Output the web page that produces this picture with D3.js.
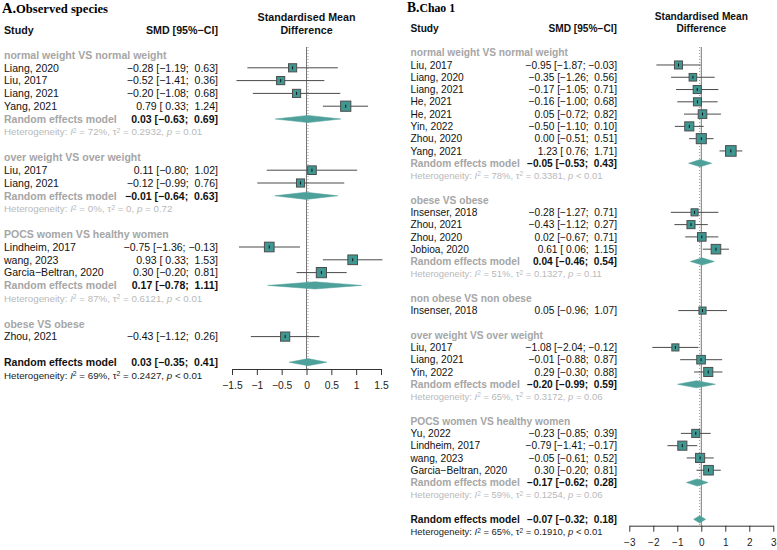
<!DOCTYPE html>
<html><head><meta charset="utf-8">
<script src="https://cdn.jsdelivr.net/npm/d3@7"></script>
<style>body{margin:0;background:#fff}svg{display:block}</style>
</head><body>
<svg id="c" width="777" height="550"></svg>
<script>
// ---------- Panel A : Observed species ----------
const groupsA = ["normal weight VS normal weight","over weight VS over weight","POCS women VS healthy women","obese VS obese"];
const studiesA = ["Liang, 2020","Liu, 2017","Liang, 2021","Yang, 2021","Liu, 2017","Liang, 2021","Lindheim, 2017","wang, 2023","Garcia\u2212Beltran, 2020","Zhou, 2021"];
const studyGroupA = [0,0,0,0,1,1,2,2,2,3];
const smdA   = [-0.28,-0.52,-0.20,0.79, 0.11,-0.12, -0.75,0.93,0.30, -0.43];
const lowerA = [-1.19,-1.41,-1.08,0.33,-0.80,-0.99, -1.36,0.33,-0.20,-1.12];
const upperA = [ 0.63, 0.36, 0.68,1.24, 1.02, 0.76, -0.13,1.53,0.81, 0.26];
const weightA = [8.1,8.1,8.1,12.7,9.1,8.1,11.4,11.4,12.7,10.3];
const groupSmdA   = [0.03,-0.01,0.17,null];
const groupLowerA = [-0.63,-0.64,-0.78,null];
const groupUpperA = [0.69,0.63,1.11,null];
const groupI2A  = ["72%","0%","87%",null];
const groupTauA = ["0.2932","0","0.6121",null];
const groupPA   = ["= 0.01","= 0.72","< 0.01",null];
const overallA = [0.03,-0.35,0.41];
const overallHetA = ["69%","0.2427","< 0.01"];
const ticksA = [-1.5,-1,-0.5,0,0.5,1,1.5];

// ---------- Panel B : Chao 1 ----------
const groupsB = ["normal weight VS normal weight","obese VS obese","non obese VS non obese","over weight VS over weight","POCS women VS healthy women"];
const studiesB = ["Liu, 2017","Liang, 2020","Liang, 2021","He, 2021","He, 2021","Yin, 2022","Zhou, 2020","Yang, 2021",
  "Insenser, 2018","Zhou, 2021","Zhou, 2020","Jobioa, 2020",
  "Insenser, 2018",
  "Liu, 2017","Liang, 2021","Yin, 2022",
  "Yu, 2022","Lindheim, 2017","wang, 2023","Garcia\u2212Beltran, 2020"];
const studyGroupB = [0,0,0,0,0,0,0,0,1,1,1,1,2,3,3,3,4,4,4,4];
const smdB   = [-0.95,-0.35,-0.17,-0.16,0.05,-0.50,0.00,1.23, -0.28,-0.43,0.02,0.61, 0.05, -1.08,-0.01,0.29, -0.23,-0.79,-0.05,0.30];
const lowerB = [-1.87,-1.26,-1.05,-1.00,-0.72,-1.10,-0.51,0.76, -1.27,-1.12,-0.67,0.06, -0.96, -2.04,-0.88,-0.30, -0.85,-1.41,-0.61,-0.20];
const upperB = [-0.03,0.56,0.71,0.68,0.82,0.10,0.51,1.71, 0.71,0.27,0.71,1.15, 1.07, -0.12,0.87,0.88, 0.39,-0.17,0.52,0.81];
const weightB = [4.4,3.9,4.4,4.4,5.0,5.6,6.9,7.6, 3.4,4.4,5.0,6.2, 3.4, 3.4,5.0,5.6, 4.4,5.6,5.6,6.2];
const groupSmdB   = [-0.05,0.04,null,-0.20,-0.17];
const groupLowerB = [-0.53,-0.46,null,-0.99,-0.62];
const groupUpperB = [0.43,0.54,null,0.59,0.28];
const groupI2B  = ["78%","51%",null,"65%","59%"];
const groupTauB = ["0.3381","0.1327",null,"0.3172","0.1254"];
const groupPB   = ["< 0.01","= 0.11",null,"= 0.06","= 0.06"];
const overallB = [-0.07,-0.32,0.18];
const overallHetB = ["65%","0.1910","< 0.01"];
const ticksB = [-3,-2,-1,0,1,2,3];

const svg = d3.select("#c");
const SANS = "Arial, 'Liberation Sans', Helvetica, sans-serif";
const SERIF = "'Times New Roman', 'Liberation Serif', serif";
const TEAL = "#3f9791", DIAM = "#4ea19b", GREY = "#a6a6a6", HET = "#b9b9b9";

function fmt(v){ return (v<0?"\u2212":"") + Math.abs(v).toFixed(2); }
function pad(v){ return (v<0?"":" ") + fmt(v); }
function ciText(e,l,u){ return fmt(e)+" ["+pad(l)+"; "+pad(u)+"]"; }

function fitSize(str, target, weight, family){
  const t = svg.append("text").style("font-family", family||SANS).style("font-size","10px")
    .style("font-weight", weight||"normal").attr("xml:space","preserve").text(str);
  const w = t.node().getComputedTextLength();
  t.remove();
  return 10*target/w;
}

function hetText(parent, xx, i2, tau, p, col){
  const tx = parent.append("text").attr("x", xx).style("font-size","10px").attr("fill", col).attr("xml:space","preserve");
  tx.append("tspan").text("Heterogeneity: ");
  tx.append("tspan").style("font-style","italic").text("I");
  tx.append("tspan").attr("dy","-0.38em").style("font-size","70%").text("2");
  tx.append("tspan").attr("dy","0.266em").text(" = "+i2+", \u03c4");
  tx.append("tspan").attr("dy","-0.38em").style("font-size","70%").text("2");
  tx.append("tspan").attr("dy","0.266em").text(" = "+tau+", ");
  tx.append("tspan").style("font-style","italic").text("p");
  tx.append("tspan").text(" "+p);
  return tx;
}

function drawPanel(cfg, d){
  const g = svg.append("g").style("font-family", SANS);
  const x = d3.scaleLinear().domain(d3.extent(d.ticks)).range([cfg.plotL, cfg.plotR]);
  const size = d3.scaleSqrt().domain([0, d3.max(d.weight)]).range([0, cfg.maxSq]);
  const fs = fitSize("Liang, 2020", cfg.studyW);
  const bfs = fitSize("Standardised Mean", cfg.headW, "bold");
  const base = (y, f) => y + (f||fs)*0.36;

  // heterogeneity font size from the first subgroup line
  const probe = hetText(g, 0, d.gI2[0], d.gTau[0], d.gP[0], "none");
  const hfs = 10*cfg.hetW/probe.node().getBBox().width;
  probe.remove();

  // title
  const sfs = fitSize(d.title, cfg.titleW, "bold", SERIF);
  const t = g.append("text").attr("x", cfg.titleX).attr("y", cfg.titleY)
    .style("font-family", SERIF).style("font-weight","bold");
  t.append("tspan").style("font-size",(sfs*1.15)+"px").text(d.letter);
  t.append("tspan").style("font-size",sfs+"px").text(d.title);

  // headers
  const hdr = (xx, yy, anchor, txt) => g.append("text").attr("x", xx).attr("y", base(yy,bfs)).attr("text-anchor",anchor)
      .style("font-size",bfs+"px").style("font-weight","bold").attr("fill","#111").text(txt);
  hdr(cfg.textX, cfg.headY, "start", "Study");
  hdr(cfg.smdR, cfg.headY, "end", "SMD [95%\u2212CI]");
  const cx = (cfg.plotL+cfg.plotR)/2;
  hdr(cx, cfg.headY-cfg.headGap, "middle", "Standardised Mean");
  hdr(cx, cfg.headY, "middle", "Difference");

  // rows
  const rows = [];
  d.groups.forEach((gn, gi) => {
    rows.push({type:"group", label: gn});
    d.studyGroup.forEach((sg, i) => { if (sg===gi) rows.push({type:"study", i}); });
    if (d.gSmd[gi] !== null){
      rows.push({type:"re", gi});
      rows.push({type:"het", gi});
    }
    rows.push({type:"blank"});
  });
  rows.push({type:"overall"});
  rows.push({type:"ohet"});
  const yOf = k => cfg.row0 + k*cfg.rowH;

  // reference lines
  g.append("line").attr("x1", x(0)).attr("x2", x(0)).attr("y1", cfg.lineTop).attr("y2", cfg.axisY)
    .attr("stroke","#777").attr("stroke-width",1);
  g.append("line").attr("x1", x(d.overall[0])).attr("x2", x(d.overall[0])).attr("y1", cfg.lineTop).attr("y2", cfg.axisY)
    .attr("stroke","#999").attr("stroke-width",1).attr("stroke-dasharray","1,2");

  function diamond(y, e, l, u){
    const h = 3.6;
    g.append("path").attr("d", `M${x(l)},${y} L${x(e)},${y-h} L${x(u)},${y} L${x(e)},${y+h} Z`)
      .attr("fill", DIAM).attr("stroke", DIAM).attr("stroke-width",0.5);
  }
  function het(y, i2, tau, p, col){
    hetText(g, cfg.textX, i2, tau, p, col).style("font-size", hfs+"px").attr("y", base(y, hfs));
  }

  rows.forEach((r, k) => {
    const y = yOf(k);
    if (r.type==="group"){
      g.append("text").attr("x", cfg.textX).attr("y", base(y)).style("font-size",fs+"px").style("font-weight","bold").attr("fill",GREY).text(r.label);
    } else if (r.type==="study"){
      const i = r.i;
      g.append("text").attr("x", cfg.textX).attr("y", base(y)).style("font-size",fs+"px").attr("fill","#111").text(d.studies[i]);
      g.append("text").attr("x", cfg.smdR).attr("y", base(y)).attr("text-anchor","end").attr("xml:space","preserve").style("font-size",fs+"px").attr("fill","#111").text(ciText(d.smd[i], d.lower[i], d.upper[i]));
      g.append("line").attr("x1", x(d.lower[i])).attr("x2", x(d.upper[i])).attr("y1", y).attr("y2", y).attr("stroke","#4a4a4a").attr("stroke-width",1);
      const s = size(d.weight[i]);
      g.append("rect").attr("x", x(d.smd[i])-s/2).attr("y", y-s/2).attr("width", s).attr("height", s)
        .attr("fill", TEAL).attr("stroke","#4d4d4d").attr("stroke-width",1);
      g.append("line").attr("x1", x(d.smd[i])).attr("x2", x(d.smd[i])).attr("y1", y-1.5).attr("y2", y+1.5).attr("stroke","#111").attr("stroke-width",1);
    } else if (r.type==="re"){
      const gi = r.gi;
      g.append("text").attr("x", cfg.textX).attr("y", base(y)).style("font-size",fs+"px").style("font-weight","bold").attr("fill",GREY).text("Random effects model");
      g.append("text").attr("x", cfg.smdR).attr("y", base(y)).attr("text-anchor","end").attr("xml:space","preserve").style("font-size",fs+"px").style("font-weight","bold").attr("fill","#111").text(ciText(d.gSmd[gi], d.gLower[gi], d.gUpper[gi]));
      diamond(y, d.gSmd[gi], d.gLower[gi], d.gUpper[gi]);
    } else if (r.type==="het"){
      const gi = r.gi;
      het(y, d.gI2[gi], d.gTau[gi], d.gP[gi], HET);
    } else if (r.type==="overall"){
      g.append("text").attr("x", cfg.textX).attr("y", base(y)).style("font-size",fs+"px").style("font-weight","bold").attr("fill","#111").text("Random effects model");
      g.append("text").attr("x", cfg.smdR).attr("y", base(y)).attr("text-anchor","end").attr("xml:space","preserve").style("font-size",fs+"px").style("font-weight","bold").attr("fill","#111").text(ciText(d.overall[0], d.overall[1], d.overall[2]));
      diamond(y, d.overall[0], d.overall[1], d.overall[2]);
    } else if (r.type==="ohet"){
      het(y, d.overallHet[0], d.overallHet[1], d.overallHet[2], "#222");
    }
  });

  // axis
  const ax = g.append("g").attr("transform", `translate(0,${cfg.axisY})`)
    .call(d3.axisBottom(x).tickValues(d.ticks).tickFormat(d3.format("~g")).tickSize(6).tickSizeOuter(0).tickPadding(7));
  ax.select(".domain").attr("stroke","#333");
  ax.selectAll(".tick line").attr("stroke","#333");
  ax.selectAll(".tick text").style("font-size",(fs*0.98)+"px").attr("fill","#222").style("font-family",SANS);
}

drawPanel({titleX:2, titleY:13, titleW:92, textX:4, smdR:218, plotL:232, plotR:381, row0:55, rowH:12.8, headY:30, headGap:13, axisY:369, lineTop:47,
           studyW:55, headW:98, hetW:199, maxSq:10.2},
  {letter:"A.", title:"Observed species", groups:groupsA, studies:studiesA, studyGroup:studyGroupA, smd:smdA, lower:lowerA, upper:upperA, weight:weightA,
   gSmd:groupSmdA, gLower:groupLowerA, gUpper:groupUpperA, gI2:groupI2A, gTau:groupTauA, gP:groupPA, overall:overallA, overallHet:overallHetA, ticks:ticksA});

drawPanel({titleX:407, titleY:12, titleW:35.7, textX:410.5, smdR:617, plotL:629.3, plotR:773.3, row0:52.7, rowH:12.28, headY:28.5, headGap:12.6, axisY:525.7, lineTop:47,
           studyW:53.3, headW:93.3, hetW:192.7, maxSq:10.6},
  {letter:"B.", title:"Chao 1", groups:groupsB, studies:studiesB, studyGroup:studyGroupB, smd:smdB, lower:lowerB, upper:upperB, weight:weightB,
   gSmd:groupSmdB, gLower:groupLowerB, gUpper:groupUpperB, gI2:groupI2B, gTau:groupTauB, gP:groupPB, overall:overallB, overallHet:overallHetB, ticks:ticksB});
</script>
</body></html>
